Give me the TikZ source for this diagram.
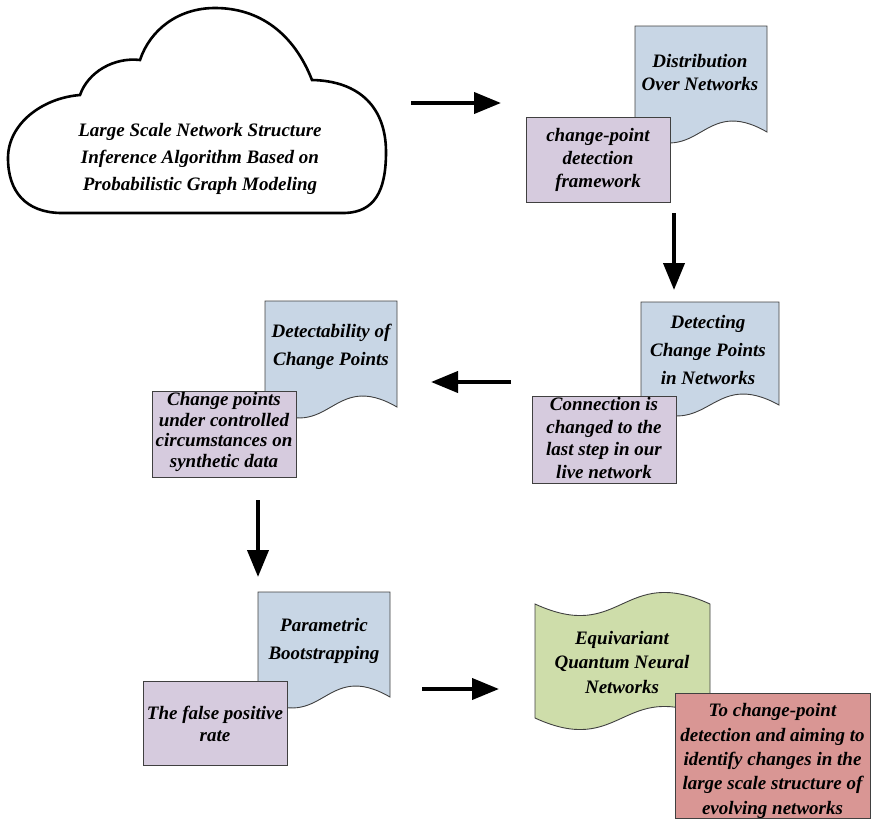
\documentclass[tikz,border=0pt]{standalone}
\usepackage{fontspec}
\setmainfont{Liberation Serif}
\usetikzlibrary{arrows.meta}
\definecolor{docblue}{RGB}{200,214,229}
\definecolor{boxpurple}{RGB}{214,203,222}
\definecolor{tapegreen}{RGB}{206,221,170}
\definecolor{boxred}{RGB}{217,150,148}
\definecolor{edgegray}{RGB}{64,64,64}
\newcommand{\mydocshape}[4]{%
  \draw[docstyle] (#1,#2) -- (#3,#2) -- (#3,#4)
    .. controls ({(#1+#3)/2},{#4-38}) and ({(#1+#3)/2},{#4+38}) .. (#1,#4) -- cycle;}
\begin{document}
\begin{tikzpicture}[x=1pt,y=-1pt,
  txt/.style={align=center,inner sep=0pt,font=\fontsize{19}{#1}\selectfont\bfseries\itshape},
  txt/.default={24},
  docstyle/.style={draw=edgegray,line width=0.9pt,fill=docblue},
  pbox/.style={draw=edgegray,line width=0.9pt,fill=boxpurple,inner sep=0pt},
  bigarrow/.style={line width=4pt,-{Triangle[length=27pt,width=21pt]}}]
\useasboundingbox (0,0) rectangle (871,819);

% cloud
\draw[line width=2.6pt,fill=white]
  (80,95) .. controls (42,98) and (8,124) .. (8,158)
  .. controls (8,192) and (26,212) .. (60,213)
  -- (345,213)
  .. controls (374,212) and (386,192) .. (386,152)
  .. controls (386,108) and (360,81) .. (312,80)
  .. controls (294,34) and (260,8) .. (215,8)
  .. controls (178,8) and (150,30) .. (140,60)
  .. controls (114,57) and (88,72) .. (80,95) -- cycle;
\node[txt=27] (cloud) at (200,159) {Large Scale Network Structure\\Inference Algorithm Based on\\Probabilistic Graph Modeling};

% row 1
\mydocshape{635}{26}{767}{132}
\node[txt=23] (dist) at (700,73) {Distribution\\Over Networks};
\node[pbox,minimum width=144pt,minimum height=85pt] (cpd) at (598,159.5) {};
\node[txt=23] at (cpd) {change-point\\detection\\framework};

% row 2 right
\mydocshape{641}{302}{779}{405}
\node[txt=28] (detect) at (708,350) {Detecting\\Change Points\\in Networks};
\node[pbox,minimum width=144pt,minimum height=87pt] (conn) at (604,439.5) {};
\node[txt=22.5] at (604,438) {Connection is\\changed to the\\last step in our\\live network};

% row 2 left
\mydocshape{265}{301}{397}{407}
\node[txt=28] (detab) at (331,347) {Detectability of\\Change Points};
\node[pbox,minimum width=144pt,minimum height=86pt] (cpu) at (224,434) {};
\node[txt=20.5] at (224,432) {Change points\\under controlled\\circumstances on\\synthetic data};

% row 3 left
\mydocshape{258}{592}{390}{697}
\node[txt=28] (param) at (324,641) {Parametric\\Bootstrapping};
\node[pbox,minimum width=144pt,minimum height=84pt] (fpr) at (215,723) {};
\node[txt=22] at (215,724) {The false positive\\rate};

% tape
\draw[draw=edgegray,line width=0.9pt,fill=tapegreen]
  (535,604) .. controls (622,644) and (622,564) .. (710,604)
  -- (710,718)
  .. controls (622,678) and (622,758) .. (535,718) -- cycle;
\node[txt=24.5] (eqnn) at (622,662) {Equivariant\\Quantum Neural\\Networks};

\node[draw=edgegray,line width=0.9pt,fill=boxred,minimum width=195pt,minimum height=125pt,inner sep=0pt] (goal) at (772.5,755.5) {};
\node[txt=24.3] at (772.5,761) {To change-point\\detection and aiming to\\identify changes in the\\large scale structure of\\evolving networks};

% arrows
\coordinate (a1s) at (411,103); \coordinate (a1e) at (501,103);
\coordinate (a2s) at (674,213); \coordinate (a2e) at (674,290);
\coordinate (a3s) at (511,382); \coordinate (a3e) at (431,382);
\coordinate (a4s) at (258,500); \coordinate (a4e) at (258,577);
\coordinate (a5s) at (422,689); \coordinate (a5e) at (499,689);
\draw[bigarrow] (a1s) -- (a1e);
\draw[bigarrow] (a2s) -- (a2e);
\draw[bigarrow] (a3s) -- (a3e);
\draw[bigarrow] (a4s) -- (a4e);
\draw[bigarrow] (a5s) -- (a5e);
\end{tikzpicture}
\end{document}
